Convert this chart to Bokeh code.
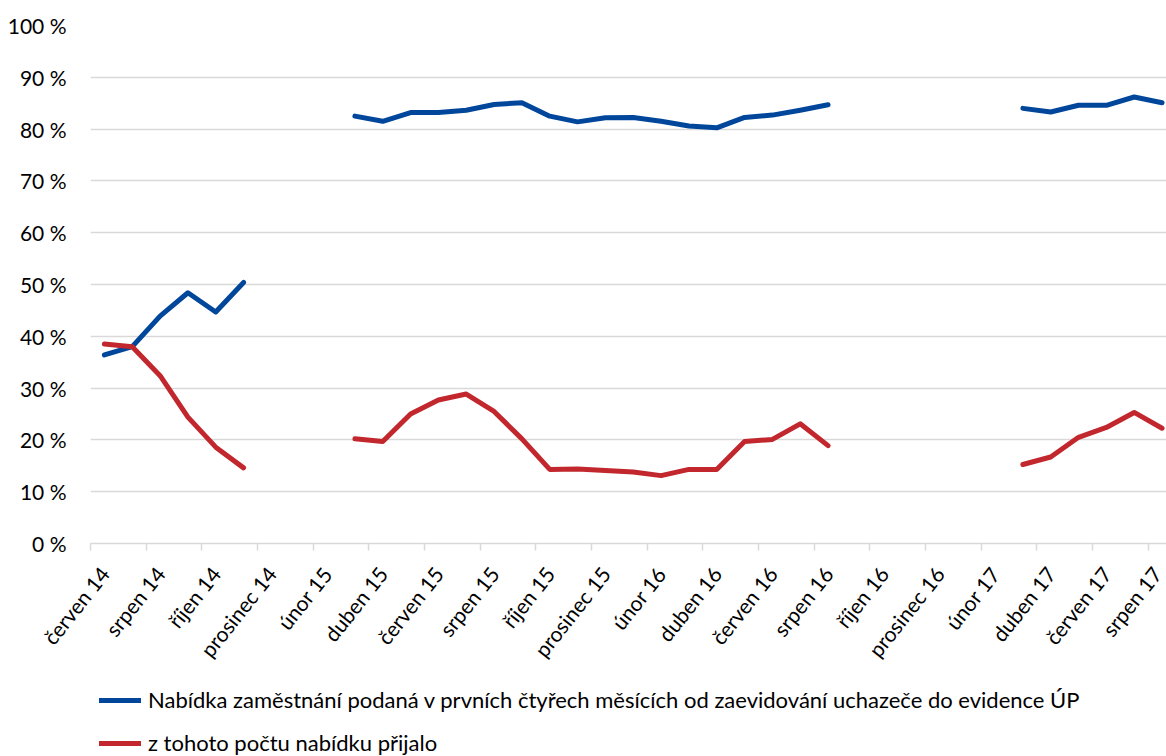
import numpy as np
from bokeh.plotting import figure
from bokeh.layouts import column
from bokeh.models import FixedTicker, Legend, LegendItem, ColumnDataSource
from bokeh.embed import file_html
from bokeh.resources import INLINE

NaN = float("nan")

months = [
    "červen 14", "červenec 14", "srpen 14", "září 14", "říjen 14", "listopad 14",
    "prosinec 14", "leden 15", "únor 15", "březen 15", "duben 15", "květen 15",
    "červen 15", "červenec 15", "srpen 15", "září 15", "říjen 15", "listopad 15",
    "prosinec 15", "leden 16", "únor 16", "březen 16", "duben 16", "květen 16",
    "červen 16", "červenec 16", "srpen 16", "září 16", "říjen 16", "listopad 16",
    "prosinec 16", "leden 17", "únor 17", "březen 17", "duben 17", "květen 17",
    "červen 17", "červenec 17", "srpen 17",
]

offer_share = [
    36.4, 38.0, 43.9, 48.4, 44.7, 50.4,
    NaN, NaN, NaN,
    82.5, 81.5, 83.2, 83.2, 83.65, 84.75, 85.1, 82.5, 81.4, 82.2,
    82.25, 81.5, 80.6, 80.25, 82.25, 82.7, 83.65, 84.7,
    NaN, NaN, NaN, NaN, NaN, NaN,
    84.0, 83.3, 84.6, 84.6, 86.2, 85.1,
]

accepted_share = [
    38.5, 38.0, 32.4, 24.4, 18.6, 14.6,
    NaN, NaN, NaN,
    20.2, 19.7, 25.0, 27.7, 28.85, 25.5, 20.2, 14.3, 14.4, 14.1,
    13.8, 13.1, 14.3, 14.3, 19.7, 20.1, 23.1, 18.9,
    NaN, NaN, NaN, NaN, NaN, NaN,
    15.25, 16.7, 20.5, 22.4, 25.3, 22.25,
]

series_names = [
    "Nabídka zaměstnání podaná v prvních čtyřech měsících od zaevidování uchazeče do evidence ÚP",
    "z tohoto počtu nabídku přijalo",
]

y_ticks = list(range(0, 101, 10))

FONT = "Lato"
BLUE = "#00479B"
RED = "#C1272D"
GRID = "#d9d9d9"
W = 1166

x = list(range(len(months)))
src = ColumnDataSource(dict(
    x=x,
    offer=np.array(offer_share, dtype=float),
    acc=np.array(accepted_share, dtype=float),
))

p = figure(
    width=W, height=672,
    output_backend="svg", toolbar_location=None,
    x_range=(-0.5, 38.16), y_range=(0, 100),
    min_border_left=90, min_border_right=0,
    min_border_top=25, min_border_bottom=127,
)
p.outline_line_color = None
p.background_fill_color = "white"
p.border_fill_color = "white"

LW = 5
p.line("x", "offer", source=src, line_color=BLUE, line_width=LW,
       line_cap="round", line_join="round")
p.line("x", "acc", source=src, line_color=RED, line_width=LW,
       line_cap="round", line_join="round")

# y axis
p.yaxis.ticker = FixedTicker(ticks=y_ticks)
p.yaxis.major_label_overrides = {v: f"{v} %" for v in y_ticks}
p.yaxis.axis_line_color = None
p.yaxis.major_tick_line_color = None
p.yaxis.minor_tick_line_color = None
p.yaxis.major_tick_out = 0
p.yaxis.major_label_standoff = 24
p.yaxis.major_label_text_font = FONT
p.yaxis.major_label_text_font_size = "21px"
p.yaxis.major_label_text_color = "#000000"

# x axis: labels at category centres, tick marks at boundaries
label_pos = x[::2]
boundaries = [i - 0.5 for i in range(0, len(months) + 2, 2)]
p.xaxis.ticker = FixedTicker(ticks=label_pos, minor_ticks=boundaries)
p.xaxis.major_label_overrides = {i: months[i] for i in label_pos}
p.xaxis.major_label_orientation = 0.9
p.xaxis.major_tick_out = 0
p.xaxis.major_tick_in = 0
p.xaxis.major_tick_line_color = None
p.xaxis.minor_tick_out = 7
p.xaxis.minor_tick_in = 0
p.xaxis.minor_tick_line_color = GRID
p.xaxis.minor_tick_line_width = 1.5
p.xaxis.axis_line_color = GRID
p.xaxis.axis_line_width = 1.5
p.xaxis.major_label_standoff = 19
p.xaxis.major_label_text_font = FONT
p.xaxis.major_label_text_font_size = "21px"
p.xaxis.major_label_text_color = "#000000"

p.xgrid.visible = False
p.ygrid.ticker = FixedTicker(ticks=y_ticks)
p.ygrid.grid_line_color = GRID
p.ygrid.grid_line_width = 1.5

# legend figure below the chart
lg = figure(
    width=W, height=84,
    output_backend="svg", toolbar_location=None,
    x_range=(0, 1), y_range=(0, 1),
    min_border_left=0, min_border_right=0,
    min_border_top=0, min_border_bottom=0,
)
lg.axis.visible = False
lg.grid.visible = False
lg.outline_line_color = None
lr1 = lg.line(x=[NaN], y=[NaN], line_color=BLUE, line_width=LW, line_cap="round")
lr2 = lg.line(x=[NaN], y=[NaN], line_color=RED, line_width=LW, line_cap="round")

legend = Legend(
    items=[LegendItem(label=series_names[0], renderers=[lr1]),
           LegendItem(label=series_names[1], renderers=[lr2])],
    location=(9, 0),
    orientation="vertical",
    glyph_width=42, glyph_height=22,
    label_height=22, label_standoff=7,
    spacing=16, padding=0, margin=0,
    border_line_color=None, background_fill_alpha=0,
    label_text_font=FONT, label_text_font_size="22px",
    label_text_color="#000000",
)
lg.add_layout(legend)

layout = column(p, lg, spacing=0)
open("out.html", "w").write(file_html(layout, INLINE))
